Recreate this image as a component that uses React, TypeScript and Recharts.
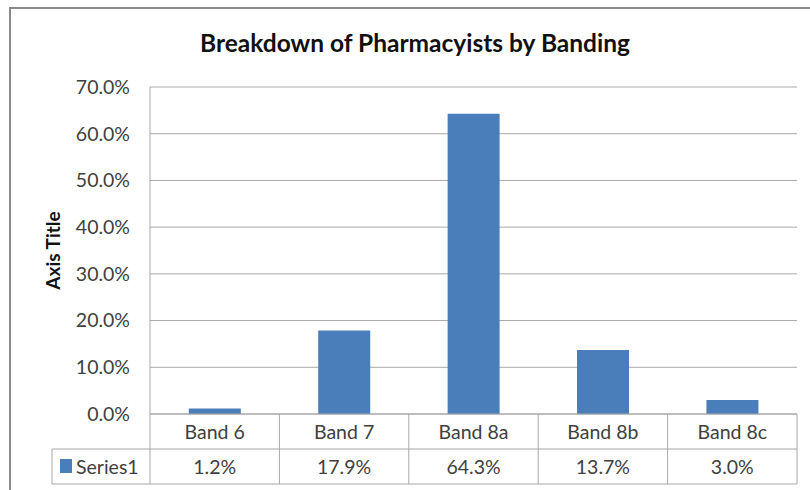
import { BarChart, Bar, XAxis, YAxis, CartesianGrid } from 'recharts';

const bands = ['Band 6', 'Band 7', 'Band 8a', 'Band 8b', 'Band 8c'];
const series1 = [1.2, 17.9, 64.3, 13.7, 3.0];
const yTicks = [0, 10, 20, 30, 40, 50, 60, 70];
const seriesName = 'Series1';

const W = 810;
const H = 490;
const M = { top: 87, right: 13, left: 0, bottom: 0 };
const Y_W = 150;
const X_H = 76;
const BAND_W = (W - M.left - Y_W - M.right) / bands.length;
const ROW_H = 35;
const KEY_LEFT = 52;

const FONT = 'Lato, "Open Sans", sans-serif';
const GRID = '#a8a8a8';
const BLUE = '#4a7ebb';
const TEXT = '#404040';

const data = bands.map((b, i) => ({ band: b, value: series1[i] }));
const pct = (v: number) => `${v.toFixed(1)}%`;

const TableTick = (props: any) => {
  const { x, y, payload, index } = props;
  const half = BAND_W / 2;
  const first = index === 0;
  const left = x - half;
  const right = left + BAND_W * (bands.length - index);
  return (
    <g>
      <text x={x} y={y + 25} textAnchor="middle" fill={TEXT} fontFamily={FONT} fontSize={19.5}>
        {payload.value}
      </text>
      <text x={x} y={y + 60} textAnchor="middle" fill={TEXT} fontFamily={FONT} fontSize={19.5}>
        {pct(data[index].value)}
      </text>
      <line x1={x + half} x2={x + half} y1={y} y2={y + ROW_H * 2} stroke={GRID} />
      {first && (
        <g>
          <line x1={left} x2={left} y1={y} y2={y + ROW_H * 2} stroke={GRID} />
          <line x1={KEY_LEFT} x2={right} y1={y + ROW_H} y2={y + ROW_H} stroke={GRID} />
          <line x1={KEY_LEFT} x2={right} y1={y + ROW_H * 2} y2={y + ROW_H * 2} stroke={GRID} />
          <line x1={KEY_LEFT} x2={KEY_LEFT} y1={y + ROW_H} y2={y + ROW_H * 2} stroke={GRID} />
          <rect x={60} y={y + 45} width={12} height={14} fill={BLUE} />
          <text x={76} y={y + 60} fill={TEXT} fontFamily={FONT} fontSize={19.5}>
            {seriesName}
          </text>
        </g>
      )}
    </g>
  );
};

export default function App() {
  return (
    <div style={{ position: 'absolute', left: 0, top: 0, width: W, height: H, overflow: 'hidden', background: '#fff' }}>
      <div
        style={{
          position: 'absolute', left: 9, top: 7, width: W + 20, height: H + 20,
          border: '2px solid #8a8a8a', boxSizing: 'border-box',
        }}
      />
      <div
        style={{
          position: 'absolute', left: 0, top: 28, width: 830, textAlign: 'center',
          fontFamily: FONT, fontWeight: 700, fontSize: 24.5, color: '#111',
        }}
      >
        Breakdown of Pharmacyists by Banding
      </div>
      <div style={{ position: 'absolute', left: 0, top: 0 }}>
        <BarChart width={W} height={H} data={data} margin={M} barCategoryGap="30%">
          <CartesianGrid vertical={false} stroke={GRID} />
          <XAxis
            dataKey="band"
            height={X_H}
            tickLine={false}
            tickSize={0}
            tickMargin={0}
            axisLine={{ stroke: GRID }}
            tick={<TableTick />}
            interval={0}
          />
          <YAxis
            width={Y_W}
            domain={[0, 70]}
            ticks={yTicks}
            tickFormatter={pct}
            tickLine={false}
            tickSize={0}
            tickMargin={20}
            axisLine={{ stroke: GRID }}
            tick={{ fill: TEXT, fontFamily: FONT, fontSize: 19.5 }}
            label={{
              value: 'Axis Title', angle: -90, position: 'insideLeft', offset: 53,
              style: { textAnchor: 'middle', fontFamily: FONT, fontWeight: 700, fontSize: 19, fill: '#111' },
            }}
          />
          <Bar dataKey="value" fill={BLUE} isAnimationActive={false} />
        </BarChart>
      </div>
    </div>
  );
}
